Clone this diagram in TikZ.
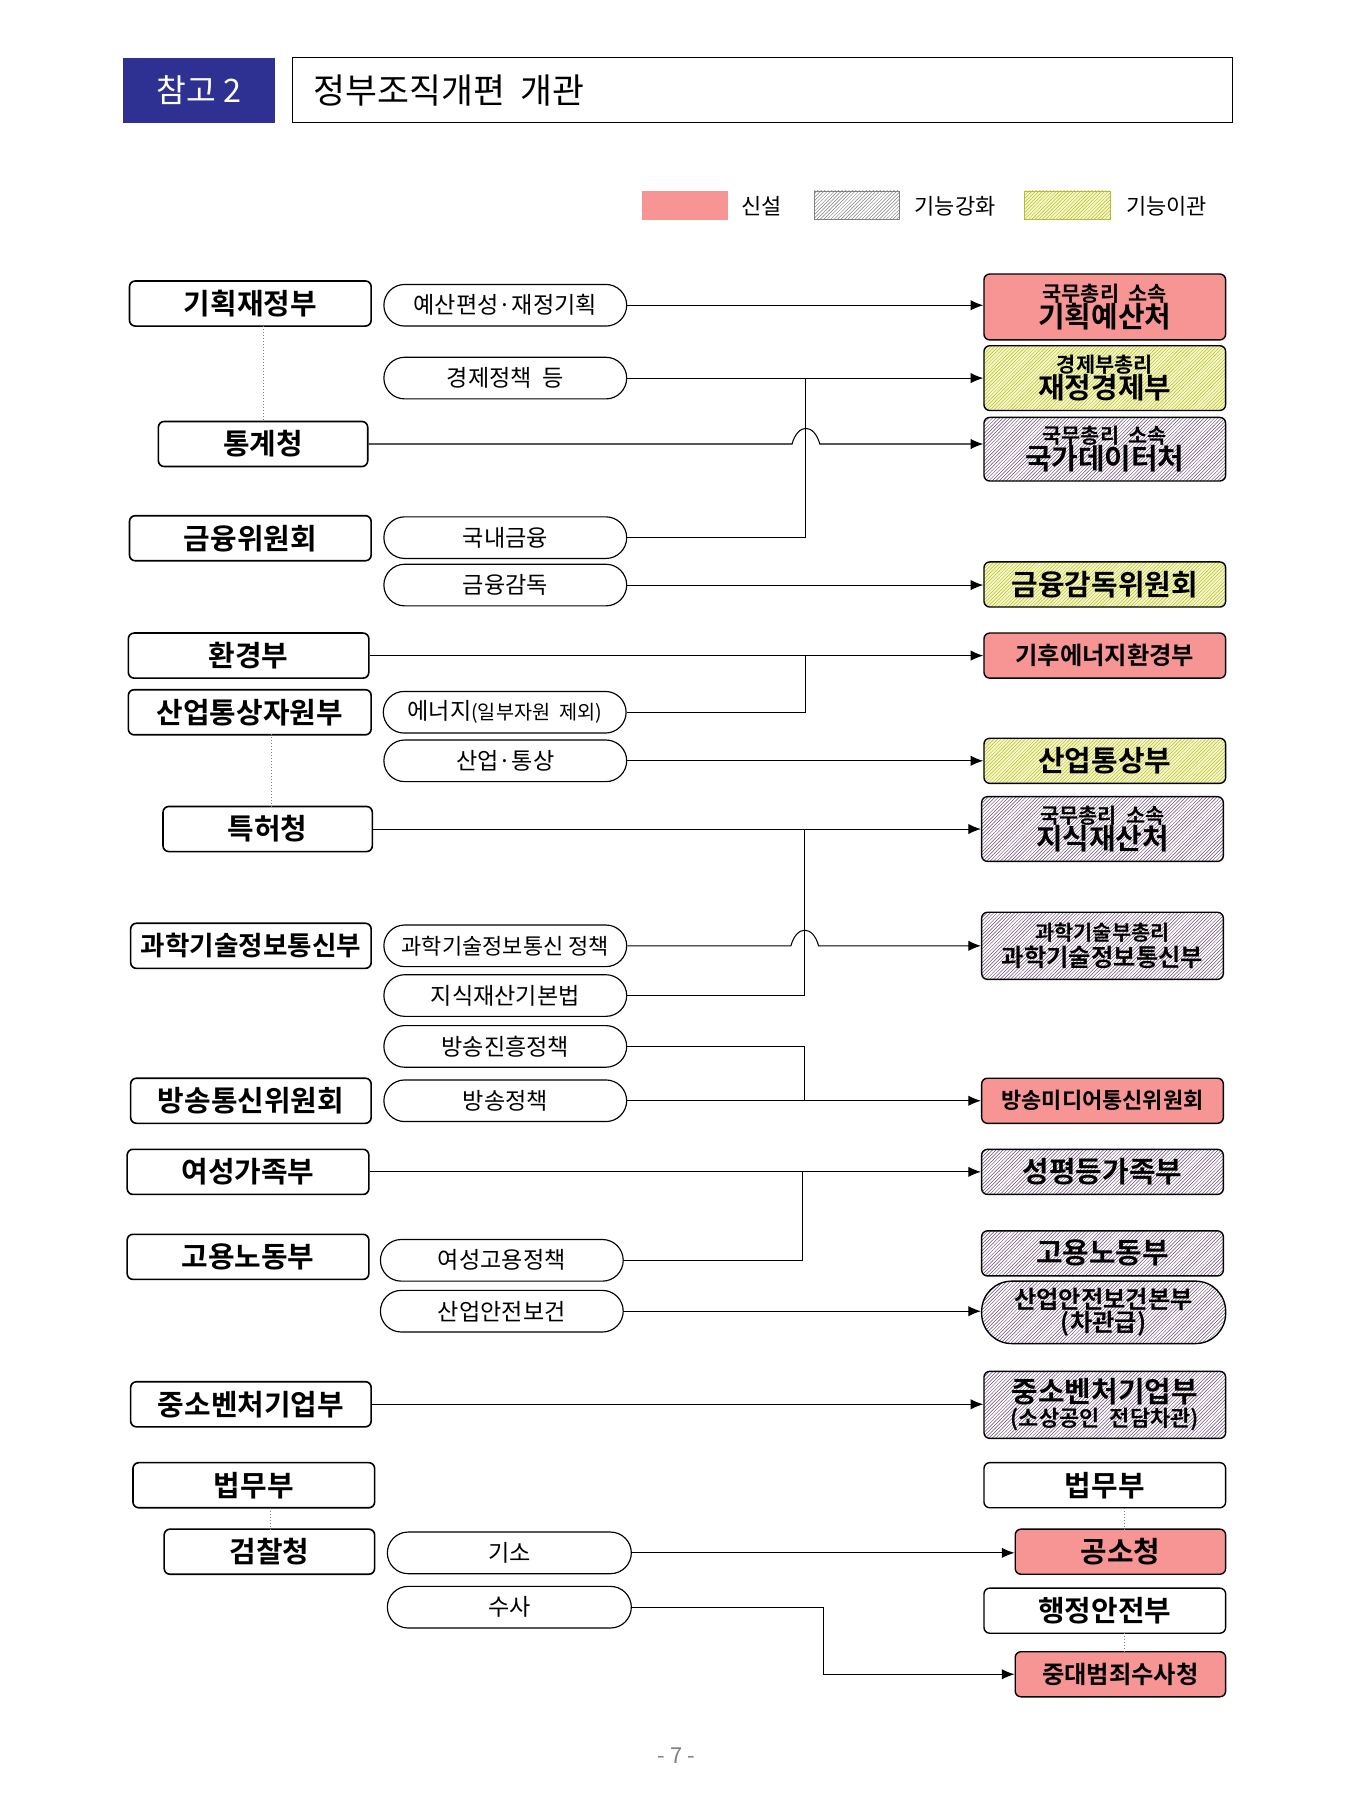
\documentclass[tikz,border=0pt]{standalone}
\usepackage{fontspec}
\setmainfont{Noto Sans CJK KR}[BoldFont={* Bold}]
\usetikzlibrary{arrows.meta,patterns}
\definecolor{navy}{HTML}{2E3192}
\definecolor{pinkf}{HTML}{F79494}
\definecolor{yelf}{HTML}{F6F8C8}
\definecolor{yelh}{HTML}{B8BC30}
\definecolor{hatc}{HTML}{6A4A7A}
\tikzset{
 lbox/.style={draw,line width=1.4pt,rounded corners=5pt,minimum height=39pt,font=\fontsize{25}{27}\selectfont\bfseries,inner sep=0pt},
 pill/.style={draw,line width=1pt,rounded corners=18pt,minimum width=210pt,minimum height=36pt,font=\fontsize{20}{22}\selectfont,inner sep=0pt},
 rbox/.style={draw,line width=1.2pt,rounded corners=5pt,minimum width=209pt,minimum height=39pt,align=center,font=\fontsize{25}{25}\selectfont\bfseries,inner sep=0pt},
 newb/.style={rbox,fill=pinkf},
 hatb/.style={rbox,pattern=north east lines,pattern color=hatc},
 yelb/.style={rbox,preaction={fill=yelf},pattern=north east lines,pattern color=yelh},
 conn/.style={line width=0.9pt},
 arr/.style={conn,-{Latex[length=11pt,width=9pt]}},
 dotl/.style={line width=0.6pt,dotted,gray}
}
\newcommand{\sm}[1]{{\fontsize{18}{18}\selectfont #1}}
\begin{document}
\begin{tikzpicture}[x=1pt,y=-1pt]
\useasboundingbox (0,0) rectangle (1167,1568);
% header
\node[fill=navy,draw=navy,minimum width=130pt,minimum height=56pt,text=white,font=\fontsize{28}{30}\selectfont] (hd) at (172,78) {참고\ 2};
\node[draw,line width=0.8pt,minimum width=813pt,minimum height=56pt] (ttl) at (659.5,78) {};
\node[anchor=west,font=\fontsize{30}{32}\selectfont] (ttlt) at (268,78) {정부조직개편\ \ 개관};
% legend
\node[fill=pinkf,minimum width=75pt,minimum height=25pt,inner sep=0pt] (lg1) at (592.5,177.5) {};
\node[font=\fontsize{19}{20}\selectfont] (lt1) at (659,178) {신설};
\node[draw=gray,line width=0.4pt,pattern=north east lines,pattern color=gray,minimum width=74pt,minimum height=25pt,inner sep=0pt] (lg2) at (741,177.5) {};
\node[font=\fontsize{19}{20}\selectfont] (lt2) at (826,178) {기능강화};
\node[draw=yelh,line width=0.4pt,preaction={fill=yelf},pattern=north east lines,pattern color=yelh,minimum width=74pt,minimum height=25pt,inner sep=0pt] (lg3) at (923,177.5) {};
\node[font=\fontsize{19}{20}\selectfont] (lt3) at (1009,178) {기능이관};
% left boxes
\node[lbox,minimum width=209pt] (L1) at (216.5,262.5) {기획재정부};
\node[lbox,minimum width=181pt] (L2) at (227.5,384) {통계청};
\node[lbox,minimum width=209pt] (L3) at (216.5,465.5) {금융위원회};
\node[lbox,minimum width=208pt] (L4) at (215,567) {환경부};
\node[lbox,minimum width=210pt] (L5) at (216,616) {산업통상자원부};
\node[lbox,minimum width=181pt] (L6) at (231.5,717) {특허청};
\node[lbox,minimum width=208pt,font=\fontsize{23}{25}\selectfont\bfseries] (L7) at (217,818) {과학기술정보통신부};
\node[lbox,minimum width=208pt] (L8) at (217,952) {방송통신위원회};
\node[lbox,minimum width=209pt] (L9) at (214.5,1013.5) {여성가족부};
\node[lbox,minimum width=209pt] (L10) at (214.5,1087) {고용노동부};
\node[lbox,minimum width=208pt] (L11) at (217,1214.5) {중소벤처기업부};
\node[lbox,minimum width=209pt] (L12) at (219.5,1284.5) {법무부};
\node[lbox,minimum width=182pt] (L13) at (233,1342) {검찰청};
\draw[dotl] (228,282) -- (228,365);
\draw[dotl] (235,635) -- (235,698);
\draw[dotl] (234,1304) -- (234,1323);
% middle pills
\node[pill] (M1) at (437,264) {예산편성·재정기획};
\node[pill] (M2) at (437,327) {경제정책\ \ 등};
\node[pill] (M3) at (437,465) {국내금융};
\node[pill] (M4) at (437,506) {금융감독};
\node[pill] (M5) at (436.5,616) {에너지{\fontsize{17}{17}\selectfont(일부자원\ \ 제외)}};
\node[pill] (M6) at (437,658) {산업·통상};
\node[pill] (M7) at (437,818) {{\fontsize{19}{19}\selectfont 과학기술정보통신\ 정책}};
\node[pill] (M8) at (437,861) {지식재산기본법};
\node[pill] (M9) at (437,905) {방송진흥정책};
\node[pill] (M10) at (437,952) {방송정책};
\node[pill] (M11) at (434,1090) {여성고용정책};
\node[pill] (M12) at (434,1134) {산업안전보건};
\node[pill,minimum width=211pt] (M13) at (440.5,1343) {기소};
\node[pill,minimum width=211pt] (M14) at (440.5,1390) {수사};
% right boxes
\node[newb,minimum height=57pt] (R1) at (955.5,265.5) {\sm{국무총리\ \ 소속}\\[-3pt]기획예산처};
\node[yelb,minimum height=56pt] (R2) at (955.5,327) {\sm{경제부총리}\\[-3pt]재정경제부};
\node[hatb,minimum height=55pt] (R3) at (955.5,388.5) {\sm{국무총리\ \ 소속}\\[-3pt]국가데이터처};
\node[yelb] (R4) at (955.5,505.5) {금융감독위원회};
\node[newb,font=\fontsize{21}{21}\selectfont\bfseries] (R5) at (955.5,567) {기후에너지환경부};
\node[yelb] (R6) at (955.5,658) {산업통상부};
\node[hatb,minimum height=56pt] (R7) at (953.5,717) {\sm{국무총리\ \ 소속}\\[-3pt]지식재산처};
\node[hatb,minimum height=58pt] (R8) at (953.5,818) {\sm{과학기술부총리}\\[-3pt]{\fontsize{21}{21}\selectfont 과학기술정보통신부}};
\node[newb,font=\fontsize{19}{19}\selectfont\bfseries] (R9) at (953.5,952) {방송미디어통신위원회};
\node[hatb] (R10) at (953.5,1013.5) {성평등가족부};
\node[hatb] (R11) at (953.5,1084) {고용노동부};
\node[hatb,rounded corners=26pt,minimum width=211pt,minimum height=54pt,font=\fontsize{21}{21}\selectfont\bfseries] (R12) at (954.5,1135) {산업안전보건본부\\[-1pt](차관급)};
\node[hatb,minimum height=58pt] (R13) at (955.5,1215) {중소벤처기업부\\[-4pt]{\fontsize{19}{19}\selectfont(소상공인\ \ 전담차관)}};
\node[rbox] (R14) at (955.5,1284.5) {법무부};
\node[newb,minimum width=182pt] (R15) at (969,1342) {공소청};
\node[rbox] (R16) at (955.5,1393) {행정안전부};
\node[newb,minimum width=182pt,font=\fontsize{21}{21}\selectfont\bfseries] (R17) at (969,1448) {중대범죄수사청};
\draw[dotl] (972,1304) -- (972,1323);
\draw[dotl] (972,1412) -- (972,1429);
% connectors
\draw[arr] (M1.east) -- (M1.east -| R1.west);
\draw[arr] (M2.east) -- (M2.east -| R2.west);
\draw[arr] (L2.east) -- (685,384) .. controls (690,366) and (704,366) .. (709,384) -- (L2.east -| R3.west);
\draw[conn] (M3.east) -- (697,465) -- (697,327);
\draw[arr] (M4.east) -- (M4.east -| R4.west);
\draw[arr] (L4.east) -- (L4.east -| R5.west);
\draw[conn] (M5.east) -- (697,616) -- (697,567);
\draw[arr] (M6.east) -- (M6.east -| R6.west);
\draw[arr] (L6.east) -- (L6.east -| R7.west);
\draw[conn] (M8.east) -- (696,861) -- (696,717);
\draw[arr] (M7.east) -- (684,818) .. controls (689,800) and (703,800) .. (708,818) -- (M7.east -| R8.west);
\draw[conn] (M9.east) -- (696,905) -- (696,952);
\draw[arr] (M10.east) -- (M10.east -| R9.west);
\draw[arr] (L9.east) -- (L9.east -| R10.west);
\draw[conn] (M11.east) -- (694,1090) -- (694,1013.5);
\draw[arr] (M12.east) -- (M12.east -| R12.west);
\draw[arr] (L11.east) -- (L11.east -| R13.west);
\draw[arr] (M13.east) -- (M13.east -| R15.west);
\draw[arr] (M14.east) -- (712,1390) -- (712,1448) -- (R17.west);
\node[font=\fontsize{19}{20}\selectfont,text=gray] (pg) at (585,1518) {-\ 7\ -};
\end{tikzpicture}
\end{document}
